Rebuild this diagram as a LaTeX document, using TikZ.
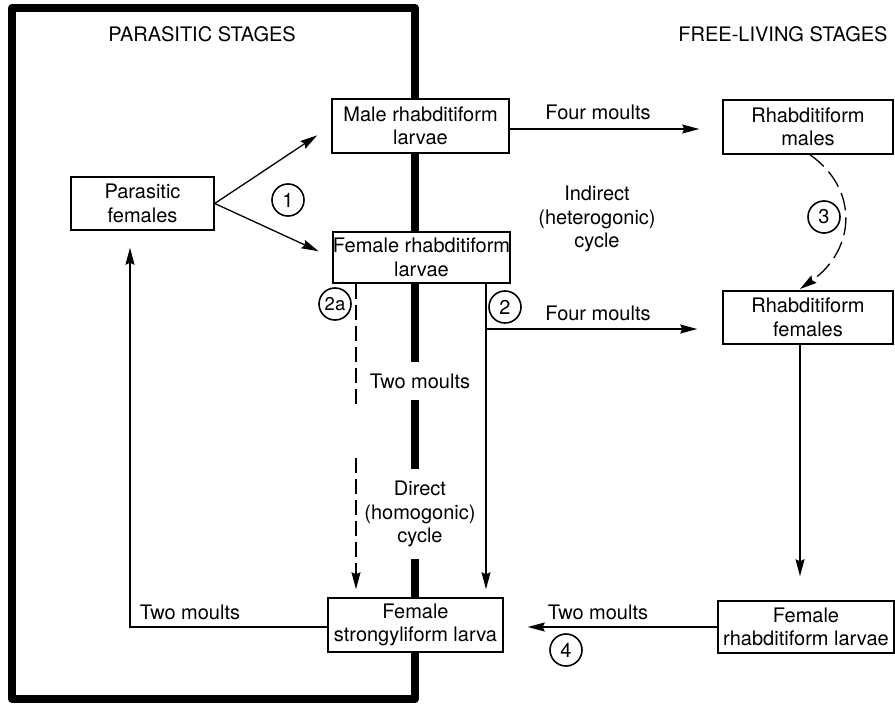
\documentclass[tikz,border=0pt]{standalone}
\usepackage{fontspec}
\setmainfont{TeX Gyre Heros}
\usetikzlibrary{arrows.meta,calc}
\begin{document}
\begin{tikzpicture}[x=1pt,y=-1pt,
  every node/.style={font=\fontsize{20}{23.5}\selectfont},
  box/.style={draw, line width=1.5pt, fill=white, align=center, inner sep=0pt},
  lbl/.style={align=center, inner sep=1pt},
  gaplbl/.style={align=center, fill=white, inner xsep=2pt, inner ysep=12pt},
  num/.style={draw, circle, line width=1.6pt, minimum size=32pt, inner sep=0pt, fill=white},
  conn/.style={line width=1.3pt},
  arr/.style={conn, -{Stealth[length=17pt,width=9pt,inset=2pt]}},
  dashline/.style={conn, dash pattern=on 15pt off 6pt},
  frame/.style={line width=8pt, line join=round}
]
\useasboundingbox (0,0) rectangle (895,704);
\draw[frame] (12,8) rectangle (415,699);

% headers
\node[lbl] (hp) at (202,34) {PARASITIC STAGES};
\node[lbl] (hf) at (783,34) {FREE-LIVING STAGES};

% boxes
\node[box, minimum width=143pt, minimum height=53pt] (pf) at (142.5,203.5) {Parasitic\\females};
\node[box, minimum width=177pt, minimum height=54pt] (mr) at (420.5,126) {Male rhabditiform\\larvae};
\node[box, minimum width=177pt, minimum height=51pt] (fr) at (421.5,257.5) {Female rhabditiform\\larvae};
\node[box, minimum width=170pt, minimum height=54pt] (rm) at (808,127) {Rhabditiform\\males};
\node[box, minimum width=170pt, minimum height=53pt] (rf) at (808,317.5) {Rhabditiform\\females};
\node[box, minimum width=175pt, minimum height=54pt] (ss) at (415.5,625) {Female\\strongyliform larva};
\node[box, minimum width=176pt, minimum height=52pt] (bl) at (806,627) {Female\\rhabditiform larvae};

% labels over the frame
\node[gaplbl] (tm2) at (420,381) {Two moults};
\node[gaplbl] (dc) at (420,514) {Direct\\(homogonic)\\cycle};

% other labels
\node[lbl] (fm1) at (598,112) {Four moults};
\node[lbl] (fm2) at (598,313) {Four moults};
\node[lbl] (ic) at (597,219) {Indirect\\(heterogonic)\\cycle};
\node[lbl] (tm1) at (190,612) {Two moults};
\node[lbl] (tm4) at (598,612) {Two moults};

% coordinates
\coordinate (j2) at (486,329);
\coordinate (g1) at (356,408);
\coordinate (g2) at (356,458);
\coordinate (c1) at (130,627);
\coordinate (c2) at (800,344);

% connectors
\draw[arr, shorten >=17pt] (pf.east) -- (mr.west);
\draw[arr, shorten >=15pt] (pf.east) -- (fr.west);
\draw[arr, shorten >=23pt] (mr.east |- 0,129) -- (rm.west |- 0,129);
\draw[arr, shorten >=8pt] (fr.south -| j2) -- (ss.north -| j2);
\draw[arr, shorten >=25pt] (j2) -- (j2 -| rf.west);
\draw[dashline] (fr.south -| g1) -- (g1);
\draw[dashline, arr, dash pattern=on 15pt off 6pt] (g2) -- ([shift={(0,-8)}]ss.north -| g2);
\draw[conn, dash pattern=on 18pt off 7pt, -{Stealth[length=17pt,width=9pt,inset=2pt]}] ([xshift=2pt]rm.south) .. controls (860,190) and (855,250) .. (800,289);
\draw[arr, shorten >=24pt] (c2) -- (c2 |- bl.north);
\draw[arr, shorten >=24pt] (bl.west |- 0,627) -- (ss.east |- 0,627);
\draw[arr, shorten >=17pt] (ss.west |- c1) -- (c1) -- (c1 |- pf.south);

% circled numbers
\node[num] (n1) at (288,200) {1};
\node[num] (n2) at (505,307) {2};
\node[num, font=\fontsize{18.5}{20}\selectfont] (n2a) at (335,304) {2a};
\node[num] (n3) at (824,217) {3};
\node[num] (n4) at (566,650) {4};
\end{tikzpicture}
\end{document}
